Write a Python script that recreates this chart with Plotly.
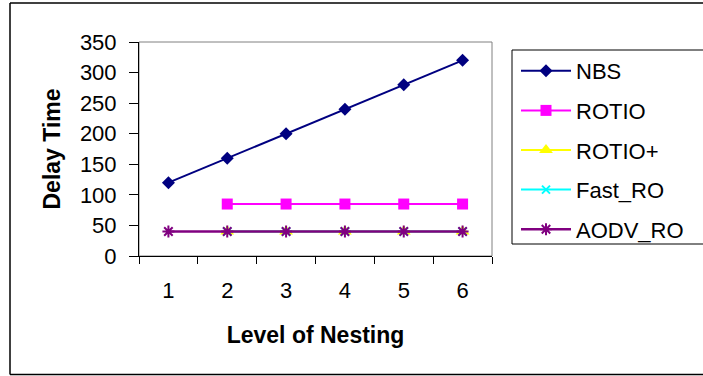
import plotly.graph_objects as go

categories = ["1", "2", "3", "4", "5", "6"]
nbs = [120, 160, 200, 240, 280, 320]
rotio = [None, 85, 85, 85, 85, 85]
rotio_plus = [None, 40, 40, 40, 40, 40]
fast_ro = [None, 40, 40, 40, 40, 40]
aodv_ro = [40, 40, 40, 40, 40, 40]
y_ticks = [0, 50, 100, 150, 200, 250, 300, 350]

W, H = 703, 376
L, R, T, B = 139, 211, 42, 120
pw, ph = W - L - R, H - T - B

def px_x(x):
    return (x - L) / pw

def px_y(y):
    return (H - B - y) / ph

FONT = "Liberation Sans, Arial, sans-serif"

series = [
    ("NBS", nbs, "#000080", "diamond", 10, 2),
    ("ROTIO", rotio, "#FF00FF", "square", 11, 2),
    ("ROTIO+", rotio_plus, "#FFFF00", "triangle-up", 12, 2),
    ("Fast_RO", fast_ro, "#00FFFF", "x-thin-open", 8, 2),
    ("AODV_RO", aodv_ro, "#800080", "asterisk-open", 10, 2.5),
]

fig = go.Figure()
for name, vals, color, sym, size, lw in series:
    fig.add_trace(go.Scatter(
        x=categories, y=vals, name=name, mode="lines+markers",
        line=dict(color=color, width=lw),
        marker=dict(symbol=sym, size=size, color=color,
                    line=dict(color=color, width=2 if "open" in sym else 0)),
        legendgroup=name, connectgaps=False,
    ))

def hline(x0, x1, y, w=1.5):
    return dict(type="line", xref="paper", yref="paper",
                x0=px_x(x0), x1=px_x(x1), y0=px_y(y), y1=px_y(y),
                line=dict(color="black", width=w), layer="below")

def vline(x, y0, y1, w=1.5):
    return dict(type="line", xref="paper", yref="paper",
                x0=px_x(x), x1=px_x(x), y0=px_y(y0), y1=px_y(y1),
                line=dict(color="black", width=w), layer="below")

fig.update_layout(
    width=W, height=H,
    margin=dict(l=L, r=R, t=T, b=B, pad=0),
    paper_bgcolor="white", plot_bgcolor="white",
    font=dict(family=FONT, size=22, color="black"),
    showlegend=True,
    legend=dict(
        x=px_x(516), y=px_y(50), xanchor="left", yanchor="top",
        borderwidth=0, bgcolor="rgba(0,0,0,0)",
        font=dict(family=FONT, size=22, color="black"),
        itemwidth=50, tracegroupgap=8, traceorder="grouped",
    ),
    xaxis=dict(
        type="category", range=[-0.5, 5.5], tickson="boundaries",
        ticks="outside", ticklen=7, tickcolor="black", tickwidth=1,
        showline=True, linecolor="black", linewidth=1,
        showgrid=False, zeroline=False,
        tickfont=dict(size=22), ticklabelstandoff=15,
        title=dict(text="<b>Level of Nesting</b>", font=dict(size=23), standoff=24),
    ),
    yaxis=dict(
        range=[0, 350], tickvals=y_ticks,
        ticks="outside", ticklen=9, tickcolor="black", tickwidth=1,
        showline=True, linecolor="black", linewidth=1,
        showgrid=False, zeroline=False,
        tickfont=dict(size=22), ticklabelstandoff=8,
        title=dict(text="<b>Delay Time</b>", font=dict(size=23), standoff=12),
    ),
    shapes=[
        dict(type="rect", xref="paper", yref="paper", x0=0, x1=1, y0=0, y1=1,
             line=dict(color="#808080", width=1), layer="below"),
        # legend frame (open on the right, cut by the page edge)
        hline(512, 740, 50, 1),
        hline(512, 740, 244, 1),
        vline(512, 50, 244, 1),
        # outer chart frame
        hline(10, 740, 3),
        hline(10, 740, 374.5),
        vline(10, 3, 374.5),
    ],
)

fig.write_html("out.html")
